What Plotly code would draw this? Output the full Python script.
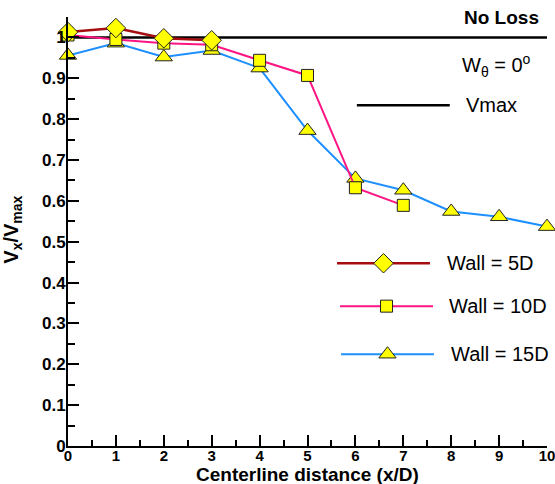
import plotly.graph_objects as go

# ---- data ----
x_5d = [0, 1, 2, 3]
y_5d = [1.013, 1.023, 0.998, 0.993]
x_10d = [0, 1, 2, 3, 4, 5, 6, 7]
y_10d = [1.006, 0.995, 0.986, 0.982, 0.944, 0.907, 0.632, 0.589]
x_15d = [0, 1, 2, 3, 4, 5, 6, 7, 8, 9, 10]
y_15d = [0.956, 0.986, 0.952, 0.968, 0.925, 0.772, 0.655, 0.626, 0.574, 0.561, 0.537]
x_vmax = [0, 10]
y_vmax = [1.0, 1.0]
x_ticks = [0, 1, 2, 3, 4, 5, 6, 7, 8, 9, 10]
y_ticks = [0, 0.1, 0.2, 0.3, 0.4, 0.5, 0.6, 0.7, 0.8, 0.9, 1.0]
y_ticklabels = ["0", "0.1", "0.2", "0.3", "0.4", "0.5", "0.6", "0.7", "0.8", "0.9", "1"]

FONT = "Liberation Sans, Arial, sans-serif"
C5 = "#a50d10"
C10 = "#ff1483"
C15 = "#1e8fff"
YEL = "#ffff00"

fig = go.Figure()

fig.add_trace(go.Scatter(x=x_vmax, y=y_vmax, mode="lines",
                         line=dict(color="black", width=2.5), cliponaxis=False,
                         showlegend=False))
fig.add_trace(go.Scatter(x=x_15d, y=y_15d, mode="lines+markers",
                         line=dict(color=C15, width=2),
                         marker=dict(symbol="triangle-up", size=15, color=YEL,
                                     line=dict(color="#222", width=1)),
                         cliponaxis=False, showlegend=False))
fig.add_trace(go.Scatter(x=x_10d, y=y_10d, mode="lines+markers",
                         line=dict(color=C10, width=2),
                         marker=dict(symbol="square", size=12, color=YEL,
                                     line=dict(color="#222", width=1)),
                         cliponaxis=False, showlegend=False))
fig.add_trace(go.Scatter(x=x_5d, y=y_5d, mode="lines+markers",
                         line=dict(color=C5, width=2.5),
                         marker=dict(symbol="diamond", size=15, color=YEL,
                                     line=dict(color="#222", width=1)),
                         cliponaxis=False, showlegend=False))

# ---- manual legend (overlay axes in paper-like fraction units) ----
legend_items = [
    ("Wall = 5D", C5, "diamond", 15, 0.426, 0.5616, 0.7557, 0.787),
    ("Wall = 10D", C10, "square", 12, 0.326, 0.568, 0.762, 0.792),
    ("Wall = 15D", C15, "triangle-up", 15, 0.214, 0.570, 0.764, 0.795),
]
for name, col, sym, sz, yy, x0, x1, xt in legend_items:
    fig.add_trace(go.Scatter(x=[x0, x1], y=[yy, yy], mode="lines",
                             line=dict(color=col, width=2.5 if col == C5 else 2),
                             xaxis="x2", yaxis="y2", showlegend=False, hoverinfo="skip"))
    fig.add_trace(go.Scatter(x=[(x0 + x1) / 2], y=[yy], mode="markers",
                             marker=dict(symbol=sym, size=sz, color=YEL,
                                         line=dict(color="#222", width=1)),
                             xaxis="x2", yaxis="y2", showlegend=False, hoverinfo="skip"))
    fig.add_annotation(x=xt, y=yy, xref="paper", yref="paper", text=name,
                       showarrow=False, xanchor="left", yanchor="middle",
                       font=dict(family=FONT, size=20, color="black"))

fig.add_trace(go.Scatter(x=[0.603, 0.797], y=[0.794, 0.794], mode="lines",
                         line=dict(color="black", width=2.5),
                         xaxis="x2", yaxis="y2", showlegend=False, hoverinfo="skip"))
fig.add_annotation(x=0.827, y=0.794, xref="paper", yref="paper", text="Vmax",
                   showarrow=False, xanchor="left", yanchor="middle",
                   font=dict(family=FONT, size=20, color="black"))
fig.add_annotation(x=0.818, y=0.888, xref="paper", yref="paper",
                   text="W<sub>θ</sub> = 0<sup>o</sup>",
                   showarrow=False, xanchor="left", yanchor="middle",
                   font=dict(family=FONT, size=20, color="black"))
fig.add_annotation(x=0.823, y=1.0, xref="paper", yref="paper", text="<b>No Loss</b>",
                   showarrow=False, xanchor="left", yanchor="middle",
                   font=dict(family=FONT, size=19, color="black"))

# axis titles
fig.add_annotation(x=0.5, y=-0.066, xref="paper", yref="paper",
                   text="<b>Centerline distance (x/D)</b>", showarrow=False,
                   xanchor="center", yanchor="middle",
                   font=dict(family=FONT, size=19, color="black"))
fig.add_annotation(x=-0.115, y=0.504, xref="paper", yref="paper",
                   text="<b>V<sub>x</sub>/V<sub>max</sub></b>", showarrow=False,
                   textangle=-90, xanchor="center", yanchor="middle",
                   font=dict(family=FONT, size=20, color="black"))

fig.update_layout(
    width=555, height=484,
    margin=dict(l=68, r=8, t=16.5, b=38, autoexpand=False),
    paper_bgcolor="white", plot_bgcolor="white",
    font=dict(family=FONT, color="black"),
    xaxis=dict(range=[0, 10], tickmode="array", tickvals=x_ticks,
               ticktext=[f"<b>{v}</b>" for v in x_ticks],
               ticks="inside", ticklen=11, tickwidth=1.5, tickcolor="black",
               showline=True, linecolor="black", linewidth=2,
               showgrid=False, zeroline=False, ticklabeloverflow="allow",
               ticklabelstandoff=-5, automargin=False,
               tickfont=dict(family=FONT, size=15, color="black"),
               minor=dict(dtick=0.5, ticks="inside", ticklen=6, tickwidth=1.5,
                          tickcolor="black", showgrid=False)),
    yaxis=dict(range=[0, 1.05], tickmode="array", tickvals=y_ticks,
               ticktext=[f"<b>{t}</b>" for t in y_ticklabels],
               ticks="inside", ticklen=11, tickwidth=1.5, tickcolor="black",
               showline=True, linecolor="black", linewidth=2,
               showgrid=False, zeroline=False, ticklabeloverflow="allow",
               ticklabelstandoff=-3, automargin=False,
               tickfont=dict(family=FONT, size=17, color="black"),
               minor=dict(dtick=0.05, ticks="inside", ticklen=7, tickwidth=1.5,
                          tickcolor="black", showgrid=False)),
    xaxis2=dict(range=[0, 1], overlaying="x", visible=False, fixedrange=True),
    yaxis2=dict(range=[0, 1], overlaying="y", visible=False, fixedrange=True),
)

fig.write_html("out.html")
